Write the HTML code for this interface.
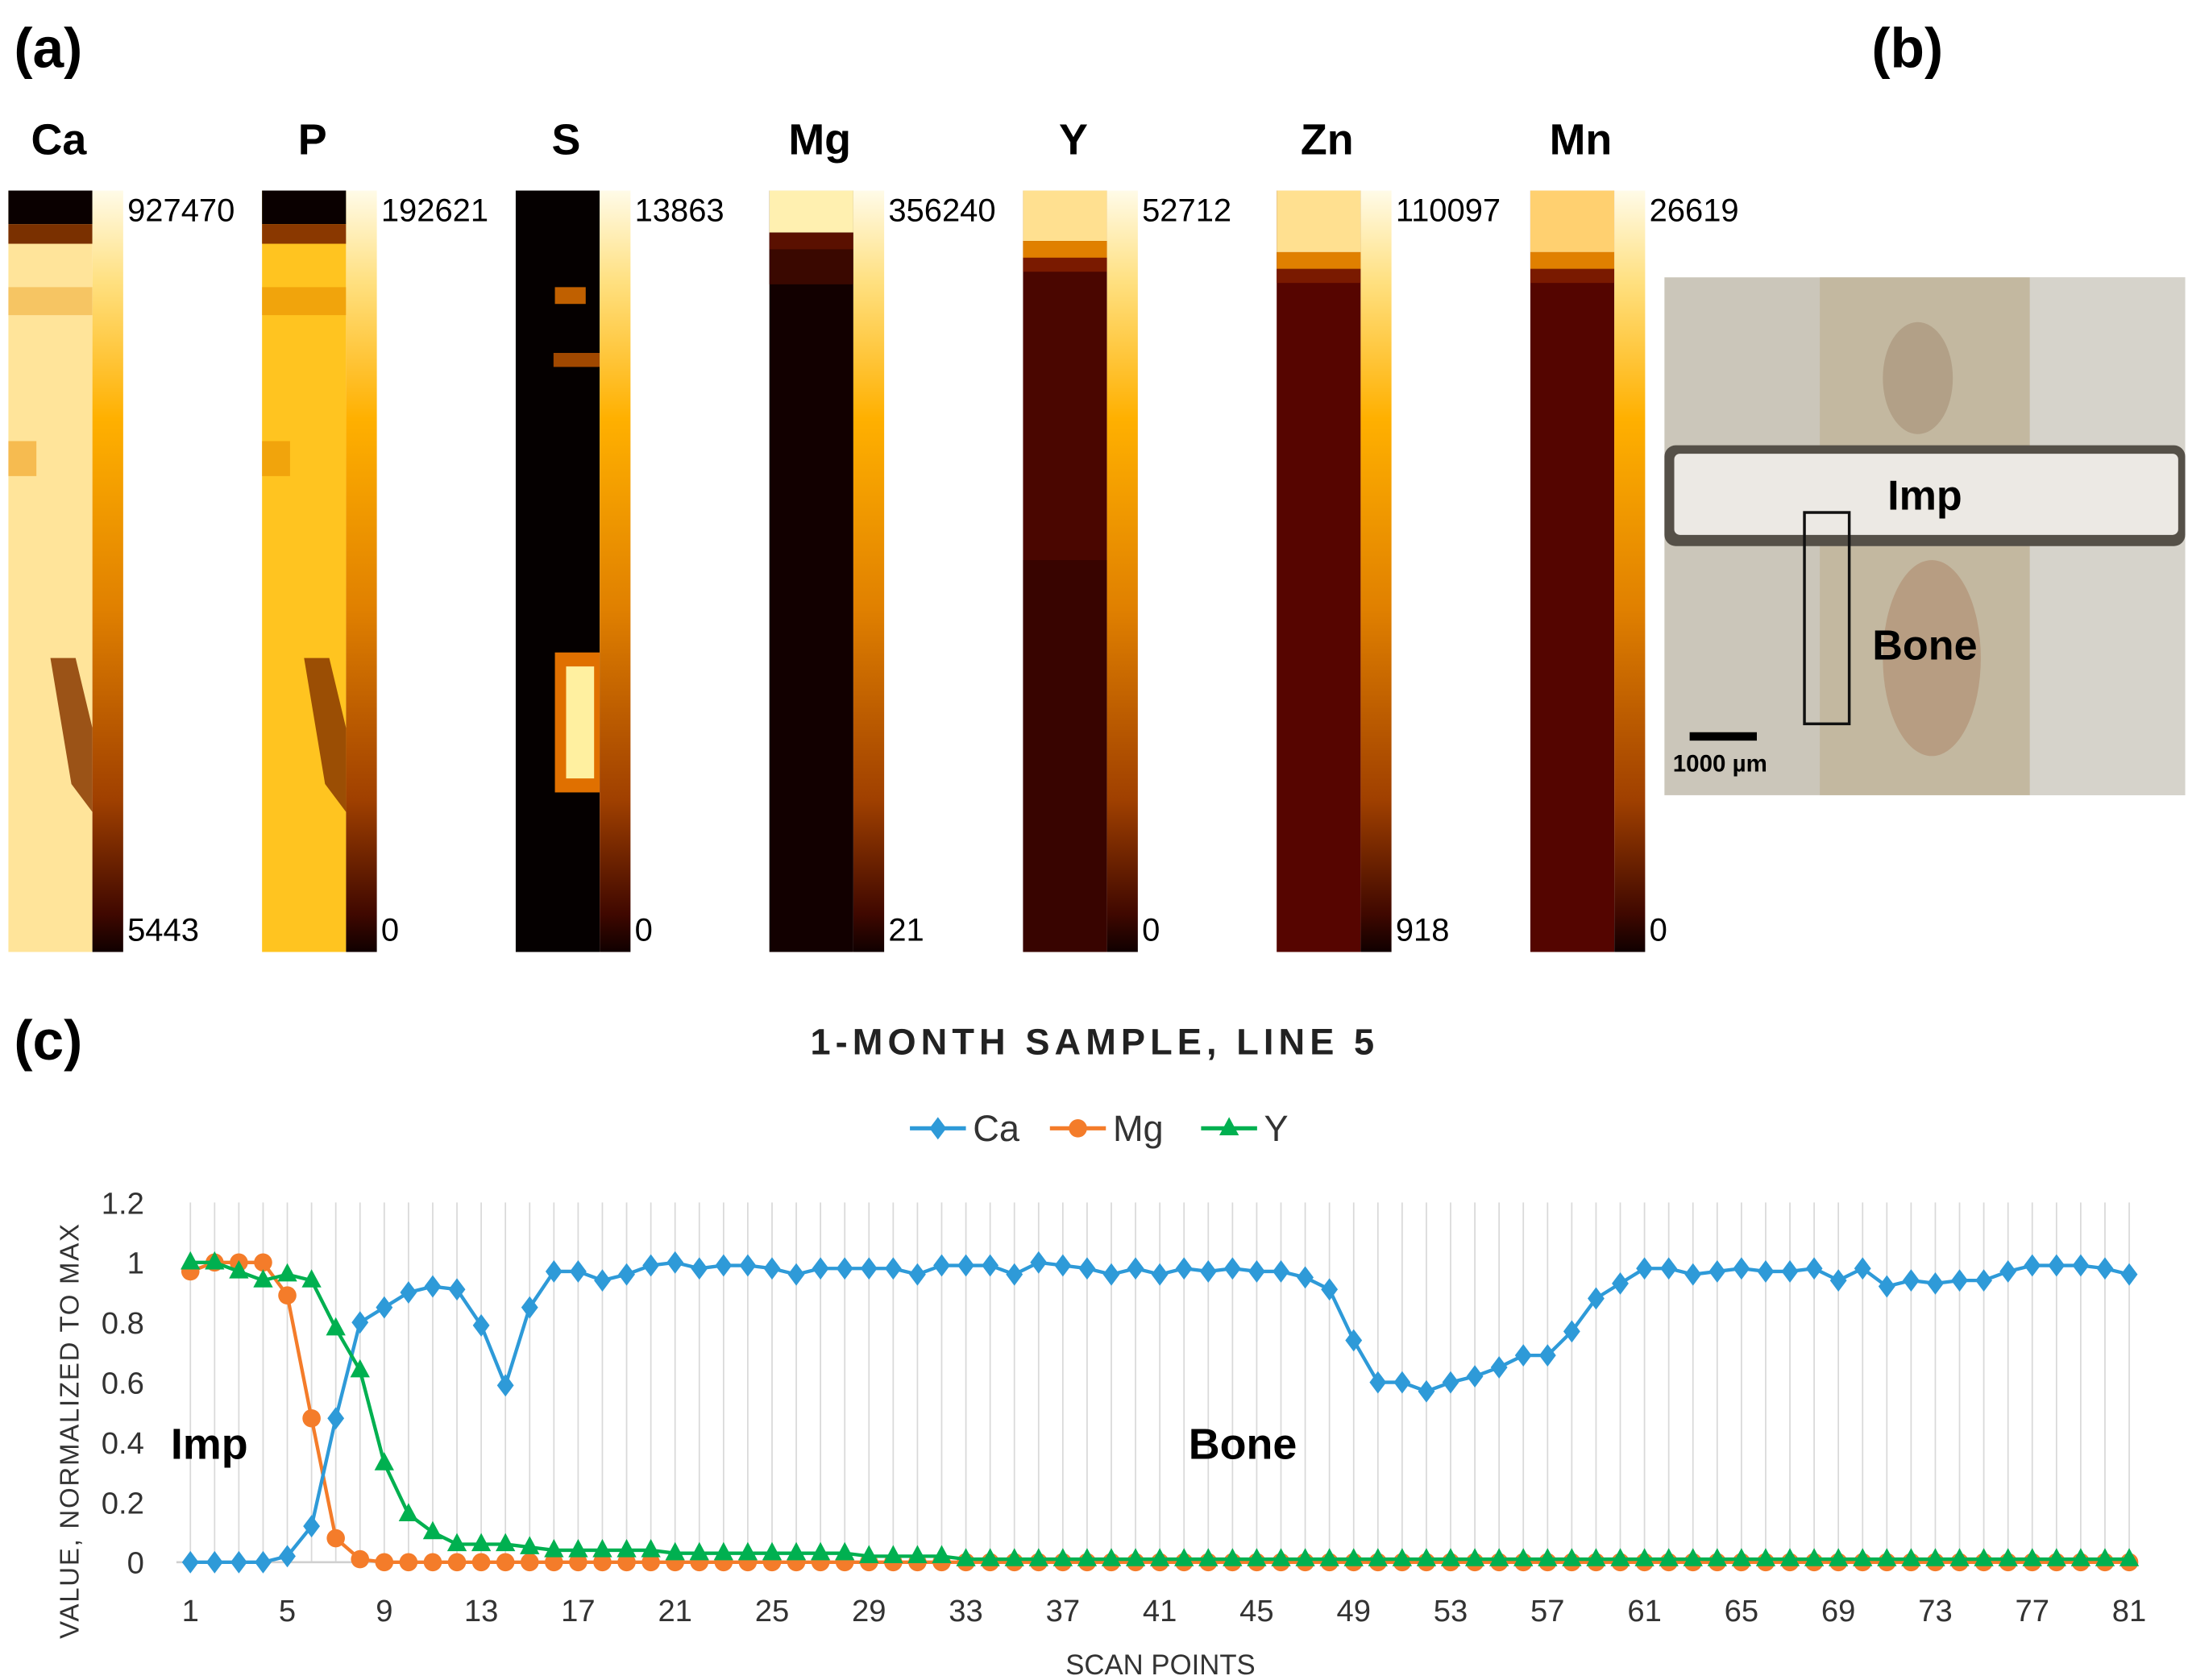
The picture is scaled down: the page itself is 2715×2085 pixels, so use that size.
<!DOCTYPE html>
<html><head><meta charset="utf-8"><style>
html,body{margin:0;padding:0;background:#fff}
svg{display:block}
text{font-family:"Liberation Sans",sans-serif}
</style></head><body>
<svg id="fig" width="2715" height="2085" viewBox="0 0 1563 1200" xmlns="http://www.w3.org/2000/svg">
<defs>
<linearGradient id="cbar" x1="0" y1="0" x2="0" y2="1">
<stop offset="0" stop-color="#fffbe8"/><stop offset="0.12" stop-color="#ffe080"/><stop offset="0.3" stop-color="#ffb000"/><stop offset="0.55" stop-color="#e08000"/><stop offset="0.8" stop-color="#a04000"/><stop offset="0.95" stop-color="#400800"/><stop offset="1" stop-color="#100000"/>
</linearGradient>
</defs>
<text x="10" y="48" font-size="40" font-weight="bold">(a)</text>
<text x="1337" y="48" font-size="40" font-weight="bold">(b)</text>
<text x="10" y="757" font-size="40" font-weight="bold">(c)</text>
<g id="maps"></g>

<g>
<rect x="1189" y="198" width="372" height="370" fill="#cbc6ba"/>
<rect x="1300" y="198" width="150" height="370" fill="#bfb295" opacity="0.7"/>
<ellipse cx="1370" cy="270" rx="25" ry="40" fill="#8a6a50" opacity="0.3"/>
<ellipse cx="1380" cy="470" rx="35" ry="70" fill="#9a6040" opacity="0.3"/>
<rect x="1450" y="198" width="111" height="370" fill="#d8d6d0" opacity="0.8"/>
<rect x="1189" y="318" width="372" height="72" fill="#555048" rx="8"/>
<rect x="1196" y="324" width="360" height="58" fill="#ece9e4" rx="4"/>
<rect x="1289" y="366" width="32" height="151" fill="none" stroke="#111" stroke-width="2"/>
<text x="1375" y="364" font-size="30" font-weight="bold" text-anchor="middle">Imp</text>
<text x="1375" y="471" font-size="30" font-weight="bold" text-anchor="middle">Bone</text>
<rect x="1207" y="523" width="48" height="6" fill="#000"/>
<text x="1195" y="551" font-size="17" font-weight="bold">1000 µm</text>
</g>

<text x="782" y="753" font-size="26" font-weight="bold" text-anchor="middle" letter-spacing="3.5" fill="#222">1-MONTH  SAMPLE,  LINE 5</text>
<g id="legend"></g>
<g id="chart"></g>
<text x="122" y="1042" font-size="31" font-weight="bold">Imp</text>
<text x="849" y="1042" font-size="31" font-weight="bold">Bone</text>
<text x="829" y="1196" font-size="20" text-anchor="middle" fill="#333">SCAN POINTS</text>
<text transform="translate(56,1022) rotate(-90)" font-size="19" text-anchor="middle" fill="#333" letter-spacing="1">VALUE, NORMALIZED TO MAX</text>
</svg>
<script>
const caValues=[0,0,0,0,0.02,0.12,0.48,0.8,0.85,0.9,0.92,0.91,0.79,0.59,0.85,0.97,0.97,0.94,0.96,0.99,1.0,0.98,0.99,0.99,0.98,0.96,0.98,0.98,0.98,0.98,0.96,0.99,0.99,0.99,0.96,1.0,0.99,0.98,0.96,0.98,0.96,0.98,0.97,0.98,0.97,0.97,0.95,0.91,0.74,0.6,0.6,0.57,0.6,0.62,0.65,0.69,0.69,0.77,0.88,0.93,0.98,0.98,0.96,0.97,0.98,0.97,0.97,0.98,0.94,0.98,0.92,0.94,0.93,0.94,0.94,0.97,0.99,0.99,0.99,0.98,0.96];
const mgValues=[0.97,1,1,1,0.89,0.48,0.08,0.01,0,0,0,0,0,0,0,0,0,0,0,0,0,0,0,0,0,0,0,0,0,0,0,0,0,0,0,0,0,0,0,0,0,0,0,0,0,0,0,0,0,0,0,0,0,0,0,0,0,0,0,0,0,0,0,0,0,0,0,0,0,0,0,0,0,0,0,0,0,0,0,0,0];
const yValues=[1,1,0.97,0.94,0.96,0.94,0.78,0.64,0.33,0.16,0.1,0.06,0.06,0.06,0.05,0.04,0.04,0.04,0.04,0.04,0.03,0.03,0.03,0.03,0.03,0.03,0.03,0.03,0.02,0.02,0.02,0.02,0.01,0.01,0.01,0.01,0.01,0.01,0.01,0.01,0.01,0.01,0.01,0.01,0.01,0.01,0.01,0.01,0.01,0.01,0.01,0.01,0.01,0.01,0.01,0.01,0.01,0.01,0.01,0.01,0.01,0.01,0.01,0.01,0.01,0.01,0.01,0.01,0.01,0.01,0.01,0.01,0.01,0.01,0.01,0.01,0.01,0.01,0.01,0.01,0.01];
const yTicks=[0,0.2,0.4,0.6,0.8,1,1.2];
const yTickLabels=["0","0.2","0.4","0.6","0.8","1","1.2"];
const elements=["Ca","P","S","Mg","Y","Zn","Mn"];
const mapMax=["927470","192621","13863","356240","52712","110097","26619"];
const mapMin=["5443","0","0","21","0","918","0"];

const NS="http://www.w3.org/2000/svg";
function mk(tag,attrs,parent){const e=document.createElementNS(NS,tag);for(const k in attrs)e.setAttribute(k,attrs[k]);parent.appendChild(e);return e;}
const X0=136,X1=1521,Y0=1116,YT=859;
const xs=i=>X0+(X1-X0)*(i)/(caValues.length-1);
const ys=v=>Y0-(Y0-YT)*v/1.2;

const maps=document.getElementById('maps');
const mapStyles=[
 {bg:"#ffe49a",top:"#0a0000",mid:"#7a3000"},
 {bg:"#ffc420",top:"#0a0000",mid:"#8a3800"},
 {bg:"#050000",top:"#050000",mid:"#050000"},
 {bg:"#120000",top:"#fff0b0",mid:"#5a1000"},
 {bg:"#4a0600",top:"#ffe090",mid:"#e08000"},
 {bg:"#560500",top:"#ffe090",mid:"#e08000"},
 {bg:"#540500",top:"#ffd070",mid:"#e08000"}];
elements.forEach((el,k)=>{
 const x=6+k*181.2, st=mapStyles[k];
 const g=mk('g',{},maps);
 
 
 const t=mk('text',{x:x+36,y:110,'font-size':31,'font-weight':'bold','text-anchor':'middle'},g);t.textContent=el;
 
 
 mk('rect',{x:x,y:136,width:60,height:544,fill:st.bg},g);
 if(k<2){
  mk('rect',{x:x,y:136,width:60,height:24,fill:st.top},g);
  mk('rect',{x:x,y:160,width:60,height:14,fill:st.mid},g);
  mk('rect',{x:x,y:205,width:60,height:20,fill:k?"#e89000":"#f0b040",opacity:0.6},g);
  mk('rect',{x:x,y:315,width:20,height:25,fill:k?"#e89000":"#f0a020",opacity:0.6},g);
  mk('path',{d:`M${x+30} 470 L${x+48} 470 L${x+60} 520 L${x+60} 580 L${x+45} 560 Z`,fill:"#8a3a00",opacity:0.85},g);
 } else if(k==2){
  mk('rect',{x:x+28,y:205,width:22,height:12,fill:"#c06000"},g);
  mk('rect',{x:x+27,y:252,width:33,height:10,fill:"#a04800"},g);
  mk('rect',{x:x+28,y:466,width:32,height:100,fill:"#e07000"},g);
  mk('rect',{x:x+36,y:476,width:20,height:80,fill:"#fff0a0"},g);
 } else {
  const h=k==3?30:(k==4?36:44);
  mk('rect',{x:x,y:136,width:60,height:h,fill:st.top},g);
  mk('rect',{x:x,y:136+h,width:60,height:12,fill:st.mid},g);
  mk('rect',{x:x,y:148+h,width:60,height:k==3?25:10,fill:k==3?"#3a0800":"#7a1a00"},g);
  if(k==4)mk('rect',{x:x,y:400,width:60,height:280,fill:"#2a0300",opacity:0.55},g);
 }
 mk('rect',{x:x+60,y:136,width:22,height:544,fill:"url(#cbar)"},g);
 const a=mk('text',{x:x+85,y:158,'font-size':23},g);a.textContent=mapMax[k];
 
 
 const b=mk('text',{x:x+85,y:672,'font-size':23},g);b.textContent=mapMin[k];
 
 
});

const ch=document.getElementById('chart');
for(let i=0;i<caValues.length;i++){
 const l=mk('line',{x1:xs(i),x2:xs(i),y1:YT,y2:Y0,stroke:"#d9d9d9","stroke-width":1},ch);
 
 
}
const base=mk('line',{x1:X0-10,x2:X1+5,y1:Y0,y2:Y0,stroke:"#d0d0d0","stroke-width":1.5},ch);


yTicks.forEach((v,i)=>{
 const t=mk('text',{x:103,y:ys(v)+8,'font-size':22,'text-anchor':'end',fill:'#333'},ch);t.textContent=yTickLabels[i];
 
 
});
for(let i=0;i<caValues.length;i+=4){
 const t=mk('text',{x:xs(i),y:1158,'font-size':22,'text-anchor':'middle',fill:'#333'},ch);t.textContent=String(i+1);
 
 
}
function marker(type,x,y,c,p){
 let e;
 if(type=='d')e=mk('path',{d:`M${x} ${y-8}L${x+6} ${y}L${x} ${y+8}L${x-6} ${y}Z`,fill:c},p);
 else if(type=='c')e=mk('circle',{cx:x,cy:y,r:6.5,fill:c},p);
 else e=mk('path',{d:`M${x} ${y-8}L${x+7} ${y+5}L${x-7} ${y+5}Z`,fill:c},p);
 return e;
}
const series=[{name:'mg',vals:mgValues,c:'#f47c2a',m:'c'},{name:'ca',vals:caValues,c:'#2e9ad8',m:'d'},{name:'y',vals:yValues,c:'#00b050',m:'t'}];
series.forEach(s=>{
 const g=mk('g',{},ch);
 
 
 const pts=s.vals.map((v,i)=>xs(i)+','+ys(v)).join(' ');
 const pl=mk('polyline',{points:pts,fill:'none',stroke:s.c,'stroke-width':2.5},g);
 
 
 s.vals.forEach((v,i)=>{
  const m=marker(s.m,xs(i),ys(v),s.c,g);
  
  
 });
});
const lg=document.getElementById('legend');
[['Ca','#2e9ad8','d',650],['Mg','#f47c2a','c',750],['Y','#00b050','t',858]].forEach(e=>{
 const g=mk('g',{},lg);
 
 
 mk('line',{x1:e[3],x2:e[3]+40,y1:806,y2:806,stroke:e[1],'stroke-width':3},g);
 marker(e[2],e[3]+20,806,e[1],g);
 const t=mk('text',{x:e[3]+45,y:815,'font-size':26,fill:'#333'},g);t.textContent=e[0];
});
</script>
</body></html>
